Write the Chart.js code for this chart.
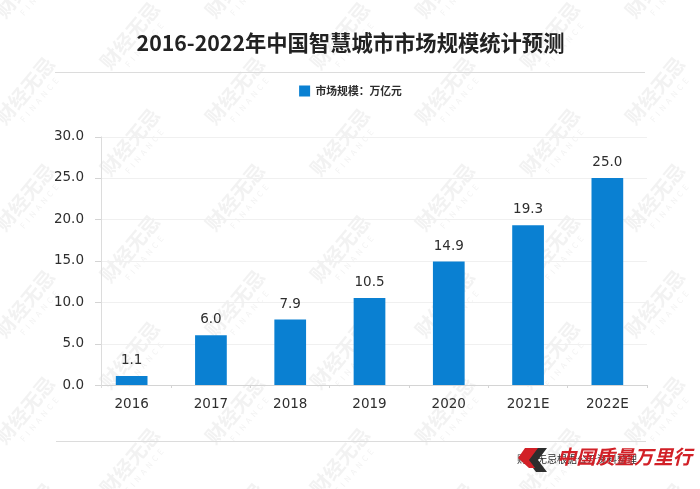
<!DOCTYPE html>
<html><head><meta charset="utf-8">
<style>html,body{margin:0;padding:0;background:#fff}#w{position:relative;width:700px;height:489px}</style>
<script src="https://cdn.jsdelivr.net/npm/chart.js@4/dist/chart.umd.js"></script>
</head><body><div id="w"><canvas id="c" width="700" height="489"></canvas></div>
<script>
const categories = ["2016","2017","2018","2019","2020","2021E","2022E"];
const marketSize = [1.1,6.0,7.9,10.5,14.9,19.3,25.0];
const seriesName = "市场规模：万亿元";
const chartTitle = "2016-2022年中国智慧城市市场规模统计预测";
const sourceText = "财经无忌根据公开资料整理";
const stampText = "中国质量万里行";
const FONT = '"Noto Sans CJK SC","Noto Sans",sans-serif';
const LATIN = '"DejaVu Sans","Noto Sans CJK SC",sans-serif';

const decor = {
  id:'decor',
  beforeLayout(ch){
    const lg=ch.legend;
    if(lg && !lg._wrapped){
      const f=lg.fit; lg.fit=function(){f.call(this); this.height+=30;}; lg._wrapped=true;
    }
  },
  afterLayout(ch){ ch.scales.y.left=30; },
  beforeDraw(ch){
    const g=ch.ctx; g.save();
    g.fillStyle='#fff'; g.fillRect(0,0,700,489);
    g.textAlign='center'; g.textBaseline='middle';
    for(let k=0;k<7;k++){
      for(let j=-1;j<6;j++){
        const x=28+105*k, y=(k%2?38:93)+106.5*j;
        g.save(); g.translate(x,y); g.rotate(-50*Math.PI/180);
        g.fillStyle='rgba(110,110,110,0.085)';
        g.font='bold 20px '+FONT; g.fillText('财经无忌',0,-4);
        g.font='8px '+FONT; g.fillText('F  I  N  A  N  C  E',2,13);
        g.restore();
      }
    }
    g.restore();
  },
  beforeDatasetsDraw(ch){
    const g=ch.ctx, y=ch.scales.y, a=ch.chartArea; g.save();
    g.lineWidth=1;
    y.ticks.forEach(t=>{
      const p=Math.round(y.getPixelForValue(t.value))+0.5;
      g.strokeStyle=t.value===0?'#d4d4d4':'#f0f0f0';
      g.beginPath(); g.moveTo(95,p); g.lineTo(a.right,p); g.stroke();
      g.strokeStyle='#d4d4d4';
      g.beginPath(); g.moveTo(95,p); g.lineTo(101,p); g.stroke();
    });
    g.strokeStyle='#dcdcdc';
    g.beginPath(); g.moveTo(101.5,a.top); g.lineTo(101.5,a.bottom+3); g.stroke();
    g.restore();
  },
  afterDraw(ch){
    const g=ch.ctx; g.save();
    g.strokeStyle='#dcdcdc'; g.lineWidth=1;
    g.beginPath(); g.moveTo(55,72.5); g.lineTo(645,72.5); g.moveTo(56,441.5); g.lineTo(646,441.5); g.stroke();
    g.fillStyle='#2b2b2b'; g.font='10px '+FONT; g.textAlign='left'; g.textBaseline='middle';
    g.fillText(sourceText,517,459);
    g.fillStyle='#2d2d2d';
    g.beginPath(); g.moveTo(536,448);g.lineTo(547,448);g.lineTo(538,460);g.lineTo(547,472);g.lineTo(536,472);g.lineTo(527,460);g.closePath(); g.fill();
    g.fillStyle='#d22027';
    g.beginPath(); g.moveTo(525,448);g.lineTo(538,448);g.lineTo(529,460);g.lineTo(535,468);g.lineTo(529,468);g.lineTo(518,458);g.closePath(); g.fill();
    g.font='italic bold 19.3px '+FONT;
    g.fillText(stampText,557,457);
    const meta=ch.getDatasetMeta(0);
    g.fillStyle='#2e2e2e'; g.font='13.5px '+LATIN; g.textAlign='center'; g.textBaseline='alphabetic';
    meta.data.forEach((b,i)=>g.fillText(marketSize[i].toFixed(1),b.x,b.y-12));
    g.restore();
  }
};

new Chart(document.getElementById('c'),{
  type:'bar',
  data:{labels:categories,datasets:[{label:seriesName,data:marketSize,backgroundColor:'#0a80d2',barPercentage:0.4,categoryPercentage:1}]},
  options:{
    responsive:false,animation:false,devicePixelRatio:1,
    layout:{padding:{left:54,right:53,top:0,bottom:0}},
    plugins:{
      title:{display:true,text:chartTitle,color:'#222',font:{family:FONT,size:21.3,weight:'bold'},padding:{top:30,bottom:20}},
      legend:{display:true,position:'top',labels:{color:'#2e2e2e',boxWidth:11,boxHeight:11,font:{family:FONT,size:10.8,weight:'bold'},padding:10}},
      tooltip:{enabled:false}
    },
    scales:{
      x:{grid:{display:true,drawOnChartArea:false,color:c=>c.index===0?'rgba(0,0,0,0)':'#d4d4d4',tickLength:3,offset:true},border:{display:false},
         ticks:{color:'#2e2e2e',font:{family:LATIN,size:13.5},padding:8},afterFit(s){s.height=104;}},
      y:{min:0,max:30,grid:{display:false},border:{display:false},
         ticks:{stepSize:5,color:'#2e2e2e',font:{family:LATIN,size:13.5},padding:0,callback:v=>v.toFixed(1)},afterFit(s){s.width=38;}}
    }
  },
  plugins:[decor]
});
</script></body></html>
